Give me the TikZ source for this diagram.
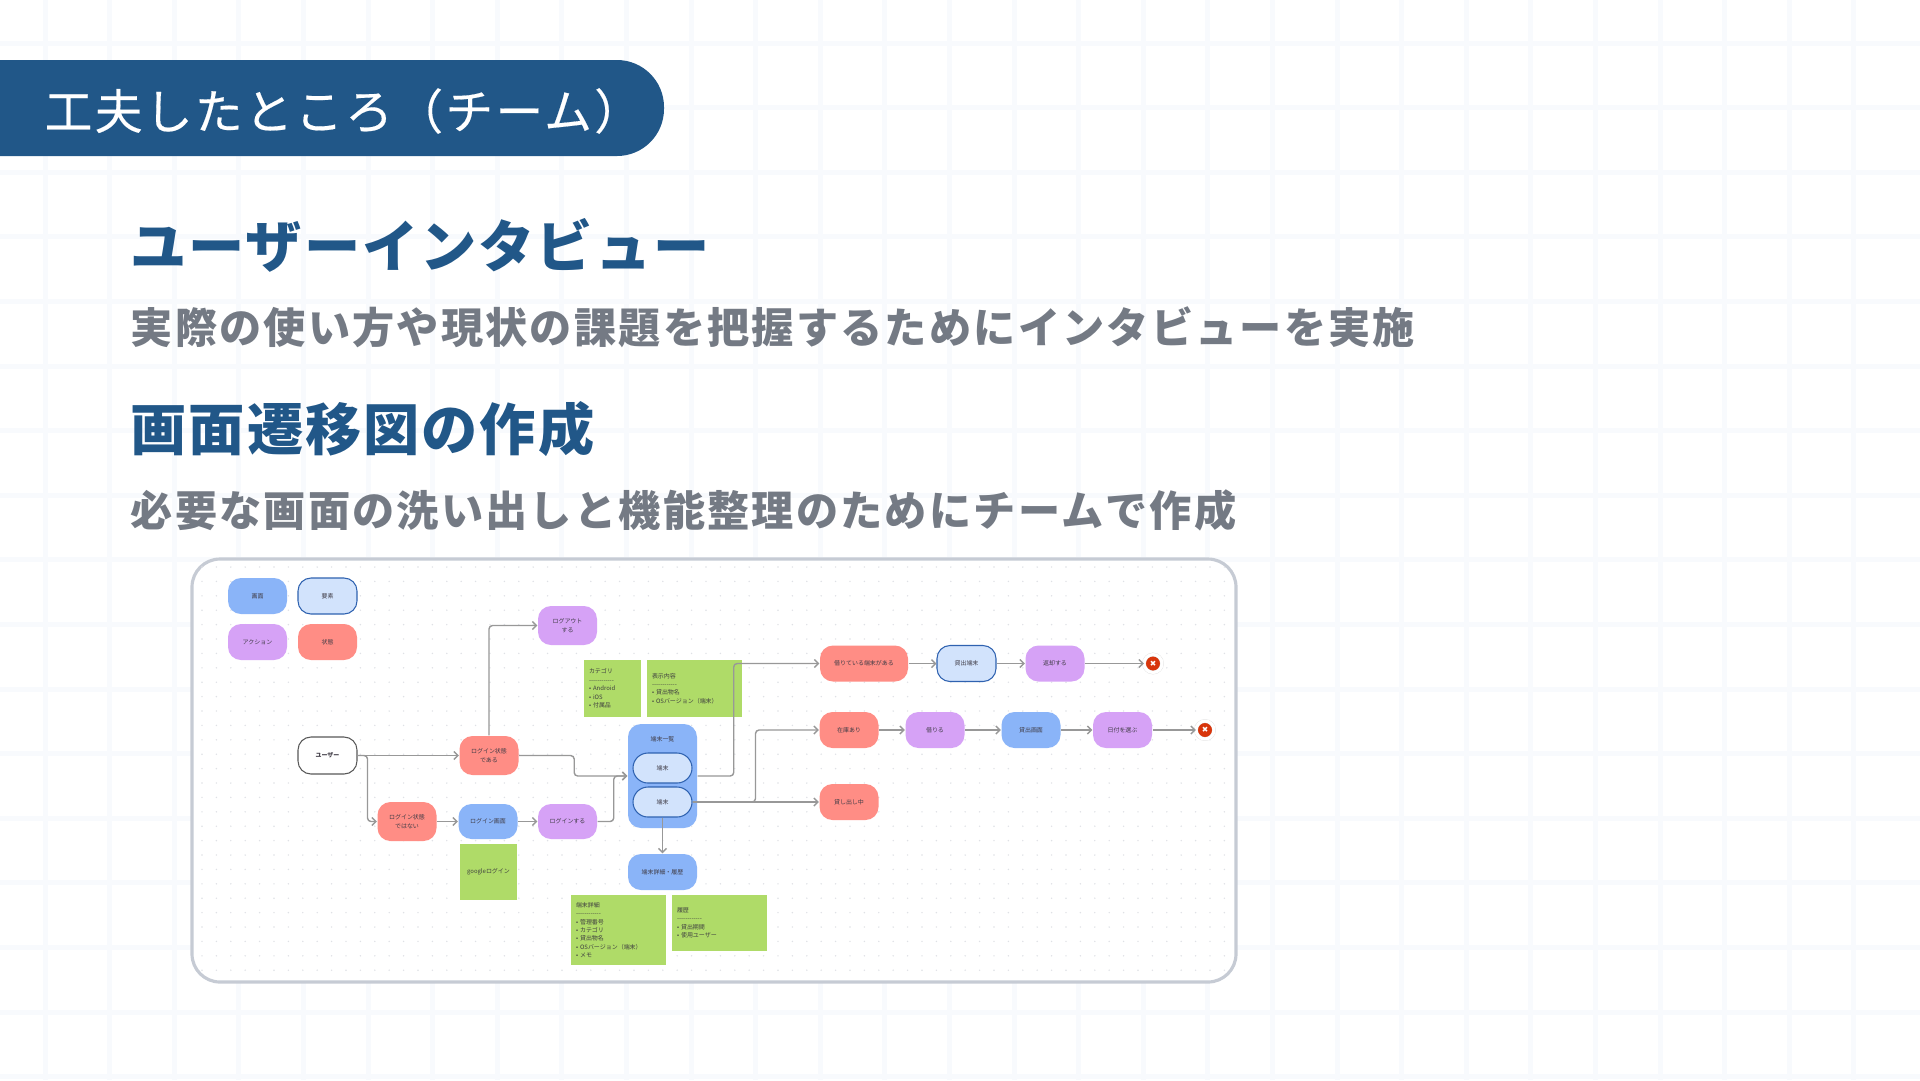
\documentclass[tikz,border=0pt]{standalone}
\usepackage{fontspec}
\usepackage{xcolor}
\usepackage{tikz}
\usetikzlibrary{arrows.meta}

\newfontfamily\cjk{Noto Sans CJK JP}
\newfontfamily\titlefont[LetterSpace=4.8,FakeBold=0.35]{Noto Sans CJK JP}
\newfontfamily\headfont[LetterSpace=3.5]{Noto Sans CJK JP}
\newfontfamily\subfont[LetterSpace=5.2]{Noto Sans CJK JP}
\newfontfamily\symfont{DejaVu Sans}

\definecolor{barblue}{HTML}{215788}
\definecolor{subgray}{HTML}{747A84}
\definecolor{gridline}{HTML}{F8FAFD}
\definecolor{cardline}{HTML}{C6CBD4}
\definecolor{dotgray}{HTML}{DFE1E6}
\definecolor{screenblue}{HTML}{8AB4F8}
\definecolor{elemblue}{HTML}{D2E3FC}
\definecolor{elemline}{HTML}{2F62B0}
\definecolor{actionpurple}{HTML}{D6A2F6}
\definecolor{statered}{HTML}{FF8D85}
\definecolor{notegreen}{HTML}{AFDB68}
\definecolor{connline}{HTML}{989898}
\definecolor{labeltext}{HTML}{403C46}
\definecolor{endred}{HTML}{D8350B}

\begin{document}
\begin{tikzpicture}[
  x=0.1mm, y=-0.1mm,
  font=\cjk\fontsize{1.7}{2.4}\selectfont,
  flowbox/.style={rounded corners=1.3mm, inner sep=0pt, align=center, text=labeltext,
                  minimum width=5.9mm, minimum height=3.6mm},
  screen/.style={flowbox, fill=screenblue},
  element/.style={flowbox, fill=elemblue, draw=elemline, line width=0.3pt},
  action/.style={flowbox, fill=actionpurple},
  statebox/.style={flowbox, fill=statered},
  sticky/.style={fill=notegreen, inner xsep=0.5mm, inner ysep=0pt, align=left, text=black!75},
  endmark/.style={circle, fill=endred, draw=black!12, double=white, double distance=0.3mm,
                  line width=0.1pt, minimum size=1.8mm, inner sep=0pt, text=white,
                  font=\symfont\fontsize{2.2}{2.2}\selectfont},
  conn/.style={draw=connline, line width=0.4pt, rounded corners=0.35mm,
               -{Straight Barb[length=0.4mm,width=0.8mm]}},
]
\useasboundingbox (0,0) rectangle (1920,1080);

% paper grid
\foreach \gx in {0,...,28}
  \fill[gridline] ({45+64.6*\gx-2.5},0) rectangle ({45+64.6*\gx+2.5},1080);
\foreach \gy in {0,...,16}
  \fill[gridline] (0,{43+64.6*\gy-2.5}) rectangle (1920,{43+64.6*\gy+2.5});

\fill[barblue] (0,60) [rounded corners=4.7mm] -- (664,60) -- (664,156) [sharp corners] -- (0,156) -- cycle;
\node[anchor=west, inner sep=0pt, text=white, font=\titlefont\fontsize{13.6}{16}\selectfont]
  (pagetitle) at (44,111) {工夫したところ（チーム）};

\node[anchor=west, inner sep=0pt, text=barblue, font=\headfont\bfseries\fontsize{16}{18}\selectfont]
  (headone) at (130,245) {ユーザーインタビュー};
\node[anchor=west, inner sep=0pt, text=subgray, font=\subfont\bfseries\fontsize{12}{14}\selectfont]
  (subone) at (130,327) {実際の使い方や現状の課題を把握するためにインタビューを実施};
\node[anchor=west, inner sep=0pt, text=barblue, font=\headfont\bfseries\fontsize{16}{18}\selectfont]
  (headtwo) at (130,429) {画面遷移図の作成};
\node[anchor=west, inner sep=0pt, text=subgray, font=\subfont\bfseries\fontsize{12}{14}\selectfont]
  (subtwo) at (130,510) {必要な画面の洗い出しと機能整理のためにチームで作成};

% screenshot card
\filldraw[fill=white, draw=cardline, line width=0.9pt, rounded corners=2.8mm]
  (192,559) rectangle (1236,982);
\foreach \dx in {0,...,71}
  \foreach \dy in {0,...,28}
    \fill[dotgray] ({202+14.4*\dx},{567+14.4*\dy}) circle (0.08mm);

% legend
\node[screen] (legscreen) at (257.5,596) {画面};
\node[element] (legelem) at (327.5,596) {要素};
\node[action] (legaction) at (257.5,642) {アクション};
\node[statebox] (legstate) at (327.5,642) {状態};

% login side
\node[flowbox, fill=white, draw=black!65, line width=0.3pt, minimum height=3.7mm, font=\cjk\bfseries\fontsize{1.7}{2.4}\selectfont]
  (user) at (327.5,755.5) {ユーザー};
\node[statebox, minimum height=3.9mm] (loggedin) at (489,755.5) {ログイン状態\\である};
\node[statebox, minimum height=3.9mm] (loggedout) at (407,821.5) {ログイン状態\\ではない};
\node[screen, minimum height=3.5mm] (loginscr) at (488,821.5) {ログイン画面};
\node[action, minimum height=3.5mm] (login) at (567.5,821.5) {ログインする};
\node[action, minimum height=3.9mm] (logout) at (567.5,625.5) {ログアウト\\する};

% device list
\node[screen, minimum width=6.9mm, minimum height=10.4mm] (devlist) at (662.5,776) {};
\node[inner sep=0pt, text=labeltext] (devlisttitle) at (662.5,739) {端末一覧};
\node[element, rounded corners=1.5mm, minimum height=3mm] (devone) at (662.5,768) {端末};
\node[element, rounded corners=1.5mm, minimum height=3mm] (devtwo) at (662.5,802) {端末};
\node[screen, minimum width=6.9mm] (devdetail) at (662.5,872) {端末詳細・履歴};

% notes
\node[sticky, text width=4.7mm, minimum height=5.7mm] (catnote) at (612.5,688.5)
  {カテゴリ\\------------\\• Android\\• iOS\\• 付属品};
\node[sticky, text width=8.5mm, minimum height=5.7mm] (shownote) at (694.5,688.5)
  {表示内容\\------------\\• 貸出物名\\• OSバージョン（端末）};
\node[sticky, align=center, text width=4.7mm, minimum height=5.6mm] (googlenote) at (488.5,872) {googleログイン};
\node[sticky, text width=8.5mm, minimum height=7mm] (detailnote) at (618.5,930)
  {端末詳細\\------------\\• 管理番号\\• カテゴリ\\• 貸出物名\\• OSバージョン（端末）\\• メモ};
\node[sticky, text width=8.5mm, minimum height=5.6mm] (histnote) at (719.5,923)
  {履歴\\------------\\• 貸出期間\\• 使用ユーザー};

% right side flows
\node[statebox, minimum width=8.8mm] (hasloaned) at (864,663.5) {借りている端末がある};
\node[element] (loanelem) at (966.5,663.5) {貸出端末};
\node[action] (giveback) at (1055,663.5) {返却する};
\node[endmark] (endone) at (1153,663.5) {✖};

\node[statebox] (instock) at (849,730) {在庫あり};
\node[action] (borrow) at (935,730) {借りる};
\node[screen] (loanscr) at (1031,730) {貸出画面};
\node[action] (pickdate) at (1122.5,730) {日付を選ぶ};
\node[endmark] (endtwo) at (1205,730) {✖};

\node[statebox] (onloan) at (849,802) {貸し出し中};

\draw[conn] (user.east) -- (loggedin.west);
\draw[conn] (user.east) -- ++(10,0) |- (loggedout.west);
\draw[conn] (loggedin.north) |- (logout.west);
\draw[conn] (loggedin.east) -- ++(55,0) |- (devlist.west);
\draw[conn] (loggedout) -- (loginscr);
\draw[conn] (loginscr) -- (login);
\draw[conn] (login.east) -- ++(16,0) |- (devlist.west);
\draw[conn] (devlist.east) -- ++(36,0) |- (hasloaned.west);
\draw[conn] (devtwo.east) -- (onloan.west);
\draw[conn] (devtwo.east) -- ++(63,0) |- (instock.west);
\draw[conn] (devtwo.south) -- (devdetail.north);
\draw[conn] (hasloaned) -- (loanelem);
\draw[conn] (loanelem) -- (giveback);
\draw[conn] (giveback) -- (endone);
\draw[conn] (instock) -- (borrow);
\draw[conn] (borrow) -- (loanscr);
\draw[conn] (loanscr) -- (pickdate);
\draw[conn] (pickdate) -- (endtwo);

\end{tikzpicture}
\end{document}
